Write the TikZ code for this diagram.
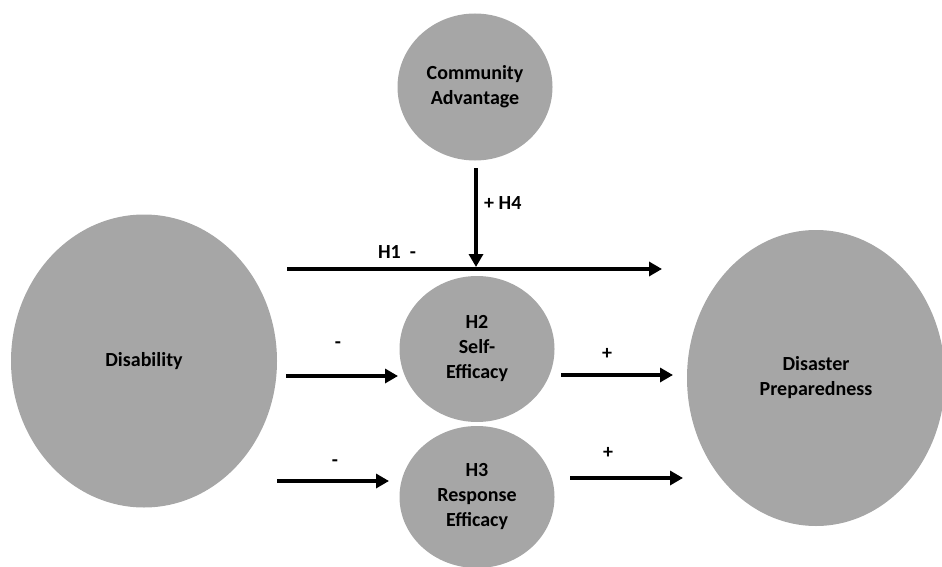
\documentclass[tikz,border=0pt]{standalone}
\usepackage{fontspec}
\setmainfont{Carlito}
\usetikzlibrary{arrows.meta,shapes.geometric}
\definecolor{constructgray}{HTML}{A6A6A6}

\begin{document}
\begin{tikzpicture}[x=1pt, y=-1pt, font=\fontsize{20}{25}\selectfont\bfseries]
		\tikzstyle {construct} = [ellipse, fill=constructgray, inner sep=0pt, align=center]
		\tikzstyle {path arrow} = [line width=4pt, -{Triangle[length=13pt, width=14pt]}]
		\tikzstyle {sign} = [inner sep=0pt]

		\useasboundingbox (0, 0) rectangle (942, 567);

		% constructs
		\node[construct, minimum width=155, minimum height=147] (community) at (475, 87) {Community\\Advantage};
		\node[construct, minimum width=266, minimum height=293] (disability) at (144, 361) {Disability};
		\node[construct, minimum width=258, minimum height=296] (preparedness) at (816, 378) {Disaster\\Preparedness};
		\node[construct, minimum width=155, minimum height=146] (selfeff) at (477, 349) {H2\\Self-\\Efficacy};
		\node[construct, minimum width=155, minimum height=142] (respeff) at (477, 497) {H3\\Response\\Efficacy};

		% arrow ends
		\coordinate (h1 start) at (287, 269);
		\coordinate (h1 end) at (662, 269);
		\coordinate (h4 start) at (476, 168);
		\coordinate (h4 end) at (476, 267);
		\coordinate (h2 in start) at (286, 376);
		\coordinate (h2 in end) at (398, 376);
		\coordinate (h2 out start) at (561, 375);
		\coordinate (h2 out end) at (673, 375);
		\coordinate (h3 in start) at (277, 481);
		\coordinate (h3 in end) at (389, 481);
		\coordinate (h3 out start) at (570, 478);
		\coordinate (h3 out end) at (683, 478);

		\draw[path arrow] (h1 start) -- (h1 end);
		\draw[path arrow] (h4 start) -- (h4 end);
		\draw[path arrow] (h2 in start) -- (h2 in end);
		\draw[path arrow] (h2 out start) -- (h2 out end);
		\draw[path arrow] (h3 in start) -- (h3 in end);
		\draw[path arrow] (h3 out start) -- (h3 out end);

		% labels
		\node[sign] (h1 label) at (397, 252) {H1\ \ -};
		\node[sign, anchor=west] (h4 label) at (484, 203) {+ H4};
		\node[sign] (h2 in label) at (338, 345) {-};
		\node[sign] (h2 out label) at (607, 354) {+};
		\node[sign] (h3 in label) at (335, 463) {-};
		\node[sign] (h3 out label) at (608, 453) {+};
\end{tikzpicture}
\end{document}
